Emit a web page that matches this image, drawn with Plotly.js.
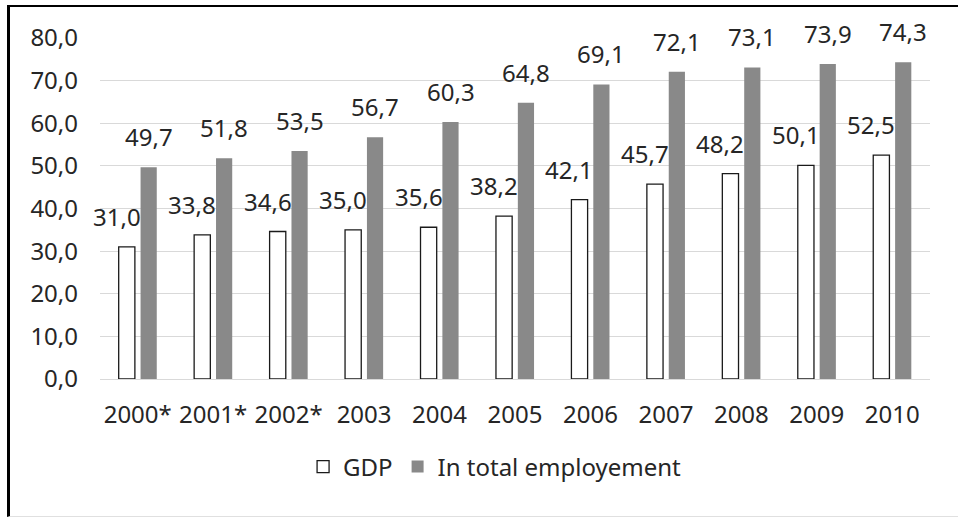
<!DOCTYPE html>
<html>
<head>
<meta charset="utf-8">
<script src="https://cdn.plot.ly/plotly-3.0.1.min.js"></script>
<style>
  html, body { margin: 0; padding: 0; background: #fff; }
  #chart { position: absolute; left: 0; top: 0; width: 958px; height: 517px; }
  #frame { position: absolute; left: 7px; top: 5px; width: 948px; height: 509px;
           border-left: 3px solid #000; border-top: 2px solid #000; border-bottom: 1px solid #e0e0e0;
           pointer-events: none; }
</style>
</head>
<body>
<div id="chart"></div>
<div id="frame"></div>
<script>
const categories = ["2000*", "2001*", "2002*", "2003", "2004", "2005", "2006", "2007", "2008", "2009", "2010"];
const gdpValues = [31.0, 33.8, 34.6, 35.0, 35.6, 38.2, 42.1, 45.7, 48.2, 50.1, 52.5];
const employmentValues = [49.7, 51.8, 53.5, 56.7, 60.3, 64.8, 69.1, 72.1, 73.1, 73.9, 74.3];
const seriesNames = ["GDP", "In total employement"];

const fmt = v => v.toFixed(1).replace('.', ',');
const FONT = "Noto Sans, Open Sans, sans-serif";
const TXT = "#262626";

const traces = [
  {
    type: 'bar', name: seriesNames[0], x: categories, y: gdpValues,
    marker: { color: '#ffffff', line: { color: '#1a1a1a', width: 1.3 } },
    hoverinfo: 'skip'
  },
  {
    type: 'bar', name: seriesNames[1], x: categories, y: employmentValues,
    marker: { color: '#898989', line: { width: 0 } },
    hoverinfo: 'skip'
  }
];

const annotations = [];
categories.forEach((c, i) => {
  annotations.push({ x: i, y: gdpValues[i], xref: 'x', yref: 'y', text: fmt(gdpValues[i]),
    showarrow: false, xanchor: 'center', yanchor: 'bottom', xshift: -21, yshift: 12,
    font: { family: FONT, size: 24, color: TXT } });
  annotations.push({ x: i, y: employmentValues[i], xref: 'x', yref: 'y', text: fmt(employmentValues[i]),
    showarrow: false, xanchor: 'center', yanchor: 'bottom', xshift: 11, yshift: 12,
    font: { family: FONT, size: 24, color: TXT } });
});

const layout = {
  width: 958, height: 517,
  margin: { l: 100, r: 28, t: 38, b: 138 },
  paper_bgcolor: '#fff', plot_bgcolor: '#fff',
  separators: ',.',
  font: { family: FONT, size: 24, color: TXT },
  barmode: 'group', bargap: 0.42, bargroupgap: 0.26,
  showlegend: true,
  legend: { orientation: 'h', x: 0.476, xanchor: 'center', y: -0.258, yanchor: 'middle',
            font: { family: FONT, size: 24, color: TXT }, itemclick: false, traceorder: 'normal',
            itemwidth: 30 },
  xaxis: { type: 'category', range: [-0.5, categories.length - 0.5], autorange: false,
           showgrid: false, zeroline: false, showline: false, ticks: '',
           ticklabelstandoff: 19, tickfont: { family: FONT, size: 24, color: TXT } },
  yaxis: { range: [0, 80], autorange: false, dtick: 10, tickformat: '.1f', showgrid: true, gridcolor: '#d9d9d9', gridwidth: 1,
           zeroline: true, zerolinecolor: '#d9d9d9', zerolinewidth: 1, showline: false, ticks: '',
           ticklabelstandoff: 21, tickfont: { family: FONT, size: 24, color: TXT } },
  annotations: annotations
};

Plotly.newPlot('chart', traces, layout, { staticPlot: true, displayModeBar: false });
</script>
</body>
</html>
